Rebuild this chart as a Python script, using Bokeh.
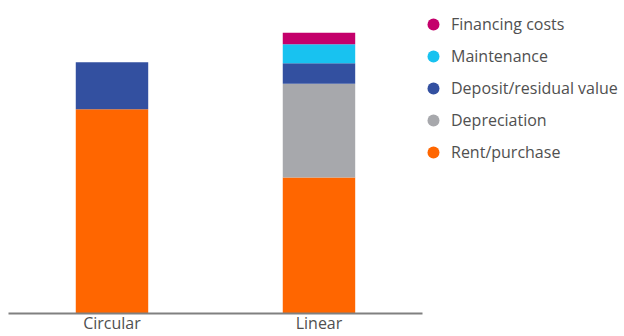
from bokeh.plotting import figure
from bokeh.models import Range1d, Legend, LegendItem, ColumnDataSource, FixedTicker
from bokeh.embed import file_html
from bokeh.resources import INLINE

categories = ["Circular", "Linear"]
rent_purchase = [72.7, 48.4]
depreciation = [0.0, 33.4]
deposit_residual = [16.7, 7.3]
maintenance = [0.0, 6.7]
financing_costs = [0.0, 4.1]

series = ["rent", "depr", "deposit", "maint", "fin"]
labels = ["Rent/purchase", "Depreciation", "Deposit/residual value", "Maintenance", "Financing costs"]
colors = ["#FF6600", "#A7A8AC", "#3350A0", "#18C2F0", "#C4006B"]

positions = list(range(len(categories)))
source = ColumnDataSource(dict(x=positions, rent=rent_purchase, depr=depreciation,
                               deposit=deposit_residual, maint=maintenance, fin=financing_costs))

FONT = "Open Sans"
NAN = float("nan")

p = figure(width=624, height=336, x_range=Range1d(-0.5, 2.476),
           y_range=Range1d(0, 111.4), output_backend="svg", toolbar_location=None,
           min_border_left=8, min_border_right=0, min_border_top=0, min_border_bottom=0)

p.vbar_stack(series, x="x", width=0.35, source=source, color=colors, line_color=None)

# legend proxies (not drawn in the plot area: NaN position)
dots = []
for lab, col in zip(labels, colors):
    r = p.scatter(x=[NAN], y=[NAN], marker="circle", fill_color=col, line_color=None)
    dots.append(LegendItem(label=lab, renderers=[r]))
dots.reverse()

legend = Legend(items=dots, location=(410, 145), margin=0, padding=0, spacing=0,
                glyph_height=32, glyph_width=30, label_standoff=3, label_height=32,
                label_text_font=FONT, label_text_font_size="16px", label_text_color="#505050",
                border_line_color=None, background_fill_alpha=0)
p.add_layout(legend)

p.yaxis.visible = False
p.xgrid.visible = False
p.ygrid.visible = False
p.outline_line_color = None
p.xaxis.ticker = FixedTicker(ticks=positions)
p.xaxis.major_label_overrides = {i: c for i, c in zip(positions, categories)}
p.xaxis.bounds = (-0.5, len(categories) - 0.5)
p.xaxis.axis_line_color = "#808080"
p.xaxis.axis_line_width = 2
p.xaxis.major_tick_line_color = None
p.xaxis.minor_tick_line_color = None
p.xaxis.major_tick_out = 0
p.xaxis.major_tick_in = 0
p.xaxis.minor_tick_out = 0
p.xaxis.major_label_standoff = -2
p.xaxis.major_label_text_line_height = 1.0
p.xaxis.major_label_text_font = FONT
p.xaxis.major_label_text_font_size = "16px"
p.xaxis.major_label_text_color = "#505050"

open("out.html", "w").write(file_html(p, INLINE))
